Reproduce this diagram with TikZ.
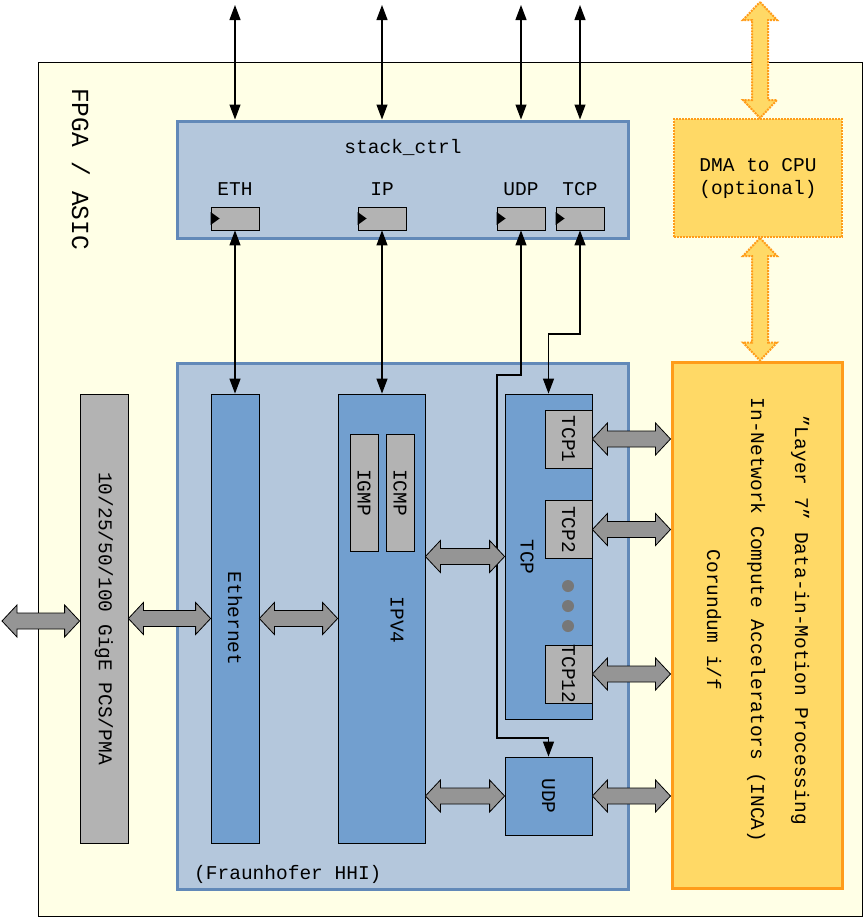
\documentclass[tikz,border=0pt]{standalone}
\usepackage{fontspec}
\setmonofont{Liberation Mono}
\usepackage{tikz}
\usetikzlibrary{arrows.meta,positioning,calc}
\definecolor{fpgabg}{HTML}{FFFFE6}
\definecolor{hhifill}{HTML}{B4C7DC}
\definecolor{hhiline}{HTML}{6289B8}
\definecolor{blkblue}{HTML}{729FCF}
\definecolor{blkgray}{HTML}{B3B3B3}
\definecolor{arrgray}{HTML}{959595}
\definecolor{incafill}{HTML}{FFD966}
\definecolor{incaline}{HTML}{FF9C1A}
\definecolor{dotgray}{HTML}{777777}
\tikzset{
  lbl/.style={font=\ttfamily\fontsize{19.5}{23}\selectfont, inner sep=0pt},
  hhibox/.style={rectangle, draw=hhiline, line width=3pt, fill=hhifill, inner sep=0pt},
  blk/.style={rectangle, draw=black, line width=0.8pt, fill=blkblue, inner sep=0pt},
  grayblk/.style={rectangle, draw=black, line width=0.8pt, fill=blkgray, inner sep=0pt},
  portbox/.style={grayblk, minimum width=48pt, minimum height=23pt},
  sig/.style={{Triangle[length=15pt,width=11pt]}-{Triangle[length=15pt,width=11pt]}, line width=1.2pt},
  grayarrow/.style={draw=black, line width=0.8pt, fill=arrgray},
  dmaarrow/.style={draw=incaline, densely dotted, line width=2pt, fill=incafill},
}
% fat horizontal double arrow, left point to right point
\newcommand{\grayarrow}[2]{%
  \draw[grayarrow] let \p1=(#1), \p2=(#2) in
    (\x1,\y1) -- (\x1+15pt,\y1+16pt) -- (\x1+15pt,\y1+8pt) -- (\x2-15pt,\y1+8pt)
    -- (\x2-15pt,\y1+16pt) -- (\x2,\y1) -- (\x2-15pt,\y1-16pt) -- (\x2-15pt,\y1-8pt)
    -- (\x1+15pt,\y1-8pt) -- (\x1+15pt,\y1-16pt) -- cycle;}
% fat vertical double arrow, top point to bottom point
\newcommand{\dmaarrow}[2]{%
  \draw[dmaarrow] let \p1=(#1), \p2=(#2) in
    (\x1,\y1) -- (\x1+17pt,\y1-18pt) -- (\x1+8pt,\y1-18pt) -- (\x1+8pt,\y2+18pt)
    -- (\x1+17pt,\y2+18pt) -- (\x1,\y2) -- (\x1-17pt,\y2+18pt) -- (\x1-8pt,\y2+18pt)
    -- (\x1-8pt,\y1-18pt) -- (\x1-17pt,\y1-18pt) -- cycle;}

\begin{document}
\begin{tikzpicture}[x=1pt, y=-1pt]
  \useasboundingbox (0,0) rectangle (865,918);
  % FPGA / ASIC
  \draw[fill=fpgabg, line width=0.8pt] (38,62) rectangle (862,916);
  \node[lbl, font=\ttfamily\fontsize{24.5}{28}\selectfont, rotate=-90] (fpgaLbl) at (81,169) {FPGA / ASIC};

  % stack control
  \node[hhibox, minimum width=451pt, minimum height=117pt] (stack) at (402.5,179.5) {};
  \node[lbl] (stackLbl) at (403,147) {stack\_ctrl};
  \node[portbox, label={[lbl, label distance=11pt]above:ETH}] (portEth) at (235,218.5) {};
  \node[portbox, label={[lbl, label distance=11pt]above:IP}] (portIp) at (382,218.5) {};
  \node[portbox, label={[lbl, label distance=11pt]above:UDP}] (portUdp) at (521,218.5) {};
  \node[portbox, label={[lbl, label distance=11pt]above:TCP}] (portTcp) at (580,218.5) {};
  \foreach \p in {portEth,portIp,portUdp,portTcp}
    \fill ([yshift=6.5pt]\p.west) -- ([xshift=9pt]\p.west) -- ([yshift=-6.5pt]\p.west) -- cycle;

  % DMA
  \node[rectangle, draw=incaline, densely dotted, line width=2pt, fill=incafill,
        minimum width=168pt, minimum height=118pt, align=center, lbl] (dma) at (758,178)
        {DMA to CPU\\(optional)};

  % HHI stack
  \node[hhibox, minimum width=451pt, minimum height=526pt] (hhi) at (402.5,626) {};
  \node[lbl, anchor=west] (hhiLbl) at (194,874) {(Fraunhofer HHI)};
  \node[grayblk, minimum width=48pt, minimum height=449pt,
        label={[lbl, rotate=-90]center:10/25/50/100 GigE PCS/PMA}] (pcs) at (104,618.5) {};
  \node[blk, minimum width=48pt, minimum height=449pt,
        label={[lbl, rotate=-90]center:Ethernet}] (eth) at (235,618.5) {};
  \node[blk, minimum width=87pt, minimum height=449pt] (ipv4) at (381.5,618.5) {};
  \node[lbl, rotate=-90] (ipv4Lbl) at (397,620) {IPV4};
  \node[grayblk, minimum width=28pt, minimum height=117pt,
        label={[lbl, rotate=-90]center:IGMP}] (igmp) at (364,492.5) {};
  \node[grayblk, minimum width=28pt, minimum height=117pt,
        label={[lbl, rotate=-90]center:ICMP}] (icmp) at (400,492.5) {};
  \node[blk, minimum width=87pt, minimum height=325pt] (tcp) at (548.5,556.5) {};
  \node[lbl, rotate=-90] (tcpLbl) at (527,557) {TCP};
  \node[grayblk, minimum width=47pt, minimum height=58pt,
        label={[lbl, rotate=-90]center:TCP1}] (tcp1) at (568.5,439) {};
  \node[grayblk, minimum width=47pt, minimum height=58pt,
        label={[lbl, rotate=-90]center:TCP2}] (tcp2) at (568.5,529.5) {};
  \node[grayblk, minimum width=47pt, minimum height=58pt,
        label={[lbl, rotate=-90]center:TCP12}] (tcp12) at (568.5,674) {};
  \foreach \y in {586,606,626}
    \fill[dotgray] (568,\y) circle (6pt);
  \node[blk, minimum width=87pt, minimum height=78pt,
        label={[lbl, rotate=-90]center:UDP}] (udp) at (548.5,796) {};

  % INCA
  \node[rectangle, draw=incaline, line width=3pt, fill=incafill,
        minimum width=170pt, minimum height=526pt] (inca) at (757,625) {};
  \node[lbl, rotate=-90, align=center] (incaLbl) at (758,620)
    {”Layer 7” Data-in-Motion Processing\\[21pt]In-Network Compute Accelerators (INCA)\\[21pt]Corundum i/f};

  % control signals
  \foreach \p/\x in {portEth/235,portIp/382,portUdp/521,portTcp/580}
    \coordinate (ext\p) at (\x,5);
  \foreach \p in {portEth,portIp,portUdp,portTcp}
    \draw[sig] (ext\p) -- (ext\p |- stack.north);
  \draw[sig] (portEth.south) -- (eth.north);
  \draw[sig] (portIp.south) -- (portIp.south |- ipv4.north);
  \draw[sig] (portUdp.south) -- (portUdp.south |- 0,375) -- (497,375) -- (497,738)
    -- (udp.north |- 0,738) -- (udp.north);
  \draw[sig] (portTcp.south) -- (portTcp.south |- 0,334) -- (tcp.north |- 0,334) -- (tcp.north);

  % data path
  \coordinate (phy) at (2,621);
  \grayarrow{phy}{pcs.west}
  \grayarrow{pcs.east}{eth.west}
  \grayarrow{eth.east}{ipv4.west}
  \grayarrow{ipv4.east |- tcp.west}{tcp.west}
  \grayarrow{ipv4.east |- udp.west}{udp.west}
  \foreach \t in {tcp1,tcp2,tcp12,udp}
    {\grayarrow{\t.east}{inca.west |- \t.east}}

  % DMA links
  \coordinate (cpu) at (760,2);
  \dmaarrow{cpu}{cpu |- dma.north}
  \dmaarrow{cpu |- dma.south}{cpu |- inca.north}
\end{tikzpicture}
\end{document}
